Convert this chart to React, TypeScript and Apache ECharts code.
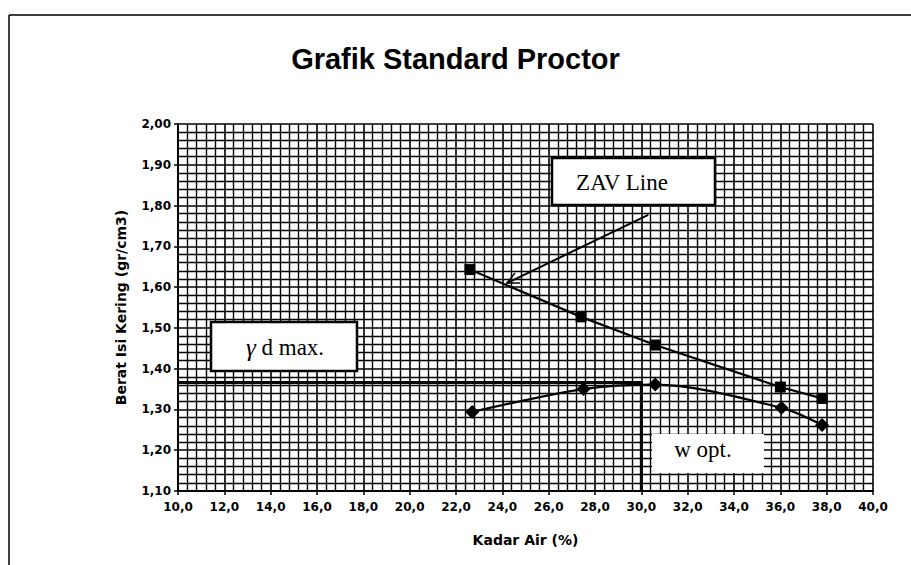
import React, { useEffect, useRef } from "react";
import * as echarts from "echarts";

const titleText = "Grafik Standard Proctor";
const xAxisName = "Kadar Air (%)";
const yAxisName = "Berat Isi Kering (gr/cm3)";

// compaction curve (diamonds)
const moistureContent = [22.7, 27.5, 30.6, 36.05, 37.8];
const dryDensity = [1.294, 1.35, 1.361, 1.304, 1.262];

// zero-air-voids line (squares)
const zavMoisture = [22.6, 27.4, 30.6, 36.0, 37.8];
const zavDensity = [1.643, 1.527, 1.458, 1.355, 1.327];

// optimum values
const gammaDMax = 1.366;
const wOpt = 30.0;

// arrow from "ZAV Line" label to the line: [x1, y1, x2, y2]
const zavArrow = [30.3, 1.777, 24.2, 1.61];

const xMin = 10, xMax = 40, xStep = 2;
const yMin = 1.1, yMax = 2.0, yStep = 0.1;

export default function App() {
  const ref = useRef<HTMLDivElement>(null);
  useEffect(() => {
    if (!ref.current) return;
    const chart = echarts.init(ref.current, null, { renderer: "svg" });
    const black = "#000";
    const tickFont = { fontFamily: "DejaVu Sans", fontSize: 12, fontWeight: "bold" as const, color: black };
    const option: any = {
      animation: false,
      backgroundColor: "#fff",
      title: {
        text: titleText,
        left: "center",
        top: 39,
        textStyle: { fontFamily: "Liberation Sans", fontSize: 29, fontWeight: "bold", color: black },
      },
      grid: { left: 178, right: 38, top: 124, bottom: 74 },
      xAxis: {
        type: "value",
        min: xMin,
        max: xMax,
        interval: xStep,
        name: xAxisName,
        nameLocation: "middle",
        nameGap: 42,
        nameTextStyle: { fontFamily: "DejaVu Sans", fontSize: 14, fontWeight: "bold", color: black },
        axisLine: { show: true, lineStyle: { color: black, width: 2 } },
        axisTick: { show: true, length: 4, lineStyle: { color: black, width: 1.5 } },
        axisLabel: { ...tickFont, margin: 10, formatter: (v: number) => v.toFixed(1).replace(".", ",") },
        splitLine: { show: true, lineStyle: { color: black, width: 1.6 } },
        minorTick: { show: false, splitNumber: 5 },
        minorSplitLine: { show: true, lineStyle: { color: black, width: 1.4 } },
      },
      yAxis: {
        type: "value",
        min: yMin,
        max: yMax,
        interval: yStep,
        name: yAxisName,
        nameLocation: "middle",
        nameGap: 50,
        nameTextStyle: { fontFamily: "DejaVu Sans", fontSize: 14, fontWeight: "bold", color: black },
        axisLine: { show: true, lineStyle: { color: black, width: 2 } },
        axisTick: { show: true, length: 4, lineStyle: { color: black, width: 1.5 } },
        axisLabel: { ...tickFont, margin: 7, formatter: (v: number) => v.toFixed(2).replace(".", ",") },
        splitLine: { show: true, lineStyle: { color: black, width: 1.6 } },
        minorTick: { show: false, splitNumber: 5 },
        minorSplitLine: { show: true, lineStyle: { color: black, width: 1.4 } },
      },
      series: [
        {
          name: "gamma d max",
          type: "line",
          data: [
            [xMin, gammaDMax],
            [wOpt, gammaDMax],
            [wOpt, yMin],
          ],
          symbol: "none",
          lineStyle: { color: black, width: 3 },
          z: 3,
        },
        {
          name: "ZAV",
          type: "line",
          data: zavMoisture.map((x, i) => [x, zavDensity[i]]),
          symbol: "rect",
          symbolSize: 11,
          itemStyle: { color: black },
          lineStyle: { color: black, width: 2.2 },
          z: 4,
        },
        {
          name: "Proctor",
          type: "line",
          data: moistureContent.map((x, i) => [x, dryDensity[i]]),
          symbol: "diamond",
          symbolSize: 14,
          smooth: 0.3,
          itemStyle: { color: black },
          lineStyle: { color: black, width: 2.2 },
          z: 4,
        },
        {
          name: "arrow",
          type: "custom",
          data: [zavArrow],
          encode: { x: [0, 2], y: [1, 3] },
          z: 5,
          renderItem: (params: any, api: any) => {
            const p1 = api.coord([api.value(0), api.value(1)]);
            const p2 = api.coord([api.value(2), api.value(3)]);
            const ang = Math.atan2(p1[1] - p2[1], p1[0] - p2[0]);
            const len = 13;
            const spread = 0.45;
            const a1 = [p2[0] + len * Math.cos(ang + spread), p2[1] + len * Math.sin(ang + spread)];
            const a2 = [p2[0] + len * Math.cos(ang - spread), p2[1] + len * Math.sin(ang - spread)];
            return {
              type: "group",
              children: [
                { type: "line", shape: { x1: p1[0], y1: p1[1], x2: p2[0], y2: p2[1] }, style: { stroke: black, lineWidth: 2 } },
                { type: "polyline", shape: { points: [a1, p2, a2] }, style: { stroke: black, fill: null, lineWidth: 1.5 } },
              ],
            };
          },
        },
      ],
      graphic: [
        { type: "line", z: 100, shape: { x1: 9, y1: 15, x2: 911, y2: 15 }, style: { stroke: black, lineWidth: 1.5 } },
        { type: "line", z: 100, shape: { x1: 9, y1: 15, x2: 9, y2: 565 }, style: { stroke: black, lineWidth: 1.5 } },
        { type: "rect", z: 100, shape: { x: 552, y: 158, width: 163, height: 47 }, style: { fill: "#fff", stroke: black, lineWidth: 2.5 } },
        {
          type: "text",
          z: 101,
          x: 622,
          y: 182,
          style: { text: "ZAV Line", fontFamily: "Liberation Serif", fontSize: 23, fill: black, align: "center", verticalAlign: "middle" },
        },
        { type: "rect", z: 100, shape: { x: 211, y: 322, width: 146, height: 49 }, style: { fill: "#fff", stroke: black, lineWidth: 2.5 } },
        {
          type: "text",
          z: 101,
          x: 285,
          y: 347,
          style: {
            text: "{g|γ} d max.",
            fontFamily: "Liberation Serif",
            fontSize: 23,
            fill: black,
            align: "center",
            verticalAlign: "middle",
            rich: { g: { fontFamily: "Liberation Serif", fontStyle: "italic", fontSize: 25, fill: black } },
          },
        },
        { type: "rect", z: 100, shape: { x: 652, y: 434, width: 112, height: 39 }, style: { fill: "#fff", stroke: null } },
        {
          type: "text",
          z: 101,
          x: 703,
          y: 449,
          style: { text: "w opt.", fontFamily: "Liberation Serif", fontSize: 23, fill: black, align: "center", verticalAlign: "middle" },
        },
      ],
    };
    chart.setOption(option);
    return () => chart.dispose();
  }, []);
  return <div ref={ref} style={{ position: "absolute", left: 0, top: 0, width: 911, height: 565 }} />;
}
